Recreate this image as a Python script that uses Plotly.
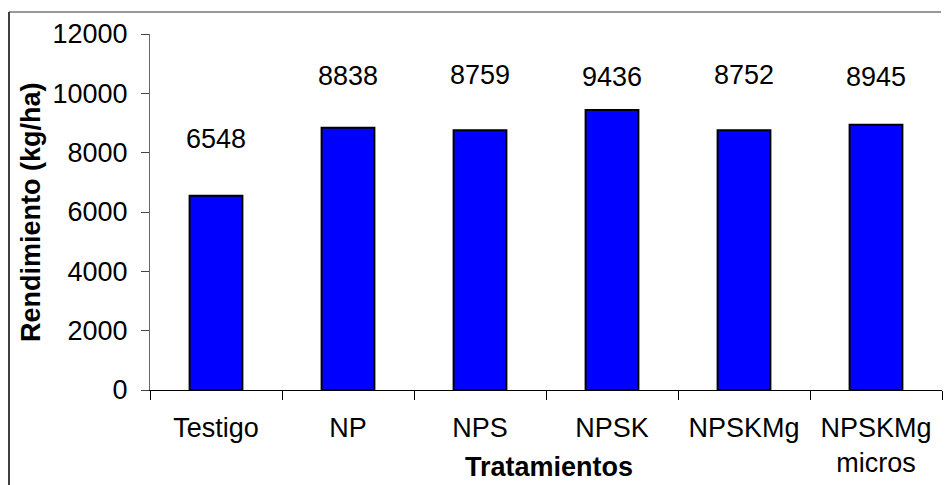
import plotly.graph_objects as go

# Rendimiento por tratamiento
tratamientos = ["Testigo", "NP", "NPS", "NPSK", "NPSKMg", "NPSKMg<br>micros"]
rendimiento = [6548, 8838, 8759, 9436, 8752, 8945]

# vertical pixel offsets of the value labels above each bar
label_shift = [57, 52, 55, 33, 55, 48]

FONT = "Liberation Sans, Arial, sans-serif"
FS = 27

W, H = 945, 485
ML, MR, MT, MB = 150, 3, 34, 95
PW, PH = W - ML - MR, H - MT - MB


def px_x(px):
    return (px - ML) / PW


def px_y(py):
    return (H - MB - py) / PH


fig = go.Figure(
    go.Bar(
        x=tratamientos,
        y=rendimiento,
        width=0.4,
        marker=dict(color="#0000FF", line=dict(color="#000000", width=2)),
        hoverinfo="x+y",
    )
)

annotations = [
    dict(
        x=cat, y=val, xref="x", yref="y", text=str(val), showarrow=False,
        yanchor="middle", yshift=shift, font=dict(family=FONT, size=FS, color="#000"),
    )
    for cat, val, shift in zip(tratamientos, rendimiento, label_shift)
]

annotations += [
    dict(
        x=px_x(31), y=0.5, xref="paper", yref="paper", text="<b>Rendimiento (kg/ha)</b>",
        showarrow=False, textangle=-90, xanchor="center", yanchor="middle",
        font=dict(family=FONT, size=FS, color="#000"),
    ),
    dict(
        x=px_x(549), y=px_y(467), xref="paper", yref="paper", text="<b>Tratamientos</b>",
        showarrow=False, xanchor="center", yanchor="middle",
        font=dict(family=FONT, size=FS, color="#000"),
    ),
]

# outer chart frame
shapes = [
    dict(type="line", xref="paper", yref="paper", x0=px_x(9), x1=px_x(9),
         y0=px_y(12), y1=px_y(495), line=dict(color="#000", width=1.5)),
    dict(type="line", xref="paper", yref="paper", x0=px_x(9), x1=px_x(941),
         y0=px_y(12), y1=px_y(12), line=dict(color="#333", width=1.2)),
]

fig.update_layout(
    width=W, height=H,
    margin=dict(l=ML, r=MR, t=MT, b=MB, pad=0),
    paper_bgcolor="white", plot_bgcolor="white",
    showlegend=False,
    font=dict(family=FONT, size=FS, color="#000"),
    annotations=annotations,
    shapes=shapes,
    bargap=0.6,
)

fig.update_xaxes(
    type="category",
    showline=True, linecolor="#000", linewidth=1.2,
    ticks="outside", tickson="boundaries", ticklen=9, tickcolor="#000", tickwidth=1,
    showgrid=False, zeroline=False,
    ticklabelstandoff=13,
    tickfont=dict(family=FONT, size=FS, color="#000"),
)

fig.update_yaxes(
    range=[0, 12000], dtick=2000, tick0=0,
    showline=True, linecolor="#666", linewidth=1,
    ticks="outside", ticklen=8, tickcolor="#444", tickwidth=1,
    showgrid=False, zeroline=False,
    ticklabelstandoff=8,
    tickformat="d",
    tickfont=dict(family=FONT, size=FS, color="#000"),
)

fig.write_html("out.html")
